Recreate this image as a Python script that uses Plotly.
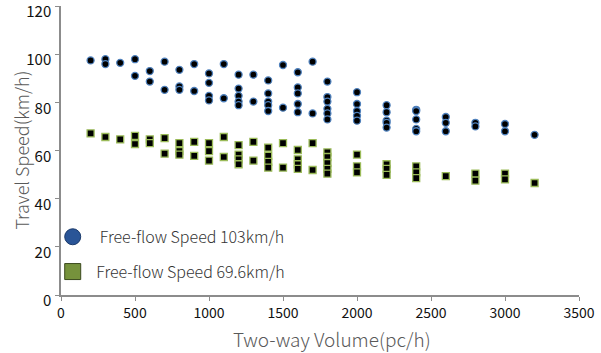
import plotly.graph_objects as go

# ---- data ----
blue_vol = (
    [200] + [300]*2 + [400] + [500]*2 + [600]*2 + [700]*2 + [800]*3 + [900]*2 +
    [1000]*4 + [1100]*2 + [1200]*5 + [1300]*2 + [1400]*5 + [1500]*2 + [1600]*5 +
    [1700]*2 + [1800]*6 + [2000]*5 + [2200]*5 + [2400]*5 + [2600]*3 + [2800]*2 +
    [3000]*2 + [3200]
)
blue_speed = [
    97.4,
    97.9, 95.9,
    96.4,
    97.9, 91.0,
    93.0, 88.6,
    96.9, 85.2,
    93.5, 86.6, 85.2,
    95.9, 84.7,
    92.0, 88.1, 82.7, 80.8,
    95.9, 81.7,
    91.5, 85.7, 82.7, 80.3, 78.8,
    91.5, 80.3,
    89.1, 83.7, 80.3, 78.8, 76.4,
    95.5, 77.8,
    92.5, 86.2, 83.7, 79.3, 75.9,
    96.9, 75.4,
    88.6, 82.2, 80.3, 77.3, 75.4, 72.9,
    84.2, 79.3, 76.4, 74.4, 72.4,
    78.8, 75.9, 72.4, 71.5, 69.5,
    76.9, 76.4, 72.9, 69.0, 68.0,
    73.9, 71.5, 68.0,
    71.5, 70.0,
    71.0, 68.0,
    66.5,
]

green_vol = (
    [200] + [300] + [400] + [500]*2 + [600]*2 + [700]*2 + [800]*3 + [900]*2 +
    [1000]*3 + [1100]*2 + [1200]*4 + [1300]*2 + [1400]*4 + [1500]*2 + [1600]*4 +
    [1700]*2 + [1800]*5 + [2000]*3 + [2200]*3 + [2400]*3 + [2600] + [2800]*2 +
    [3000]*2 + [3200]
)
green_speed = [
    67.1,
    65.6,
    64.6,
    66.1, 62.7,
    64.6, 63.1,
    65.1, 58.7,
    63.1, 59.7, 58.3,
    63.6, 57.8,
    63.1, 59.7, 55.8,
    65.6, 57.3,
    62.2, 58.3, 56.3, 54.3,
    63.6, 55.8,
    61.2, 57.8, 55.3, 52.9,
    63.1, 52.9,
    60.2, 56.3, 54.3, 52.4,
    63.1, 51.9,
    59.2, 57.3, 54.8, 52.4, 50.4,
    58.3, 53.4, 50.9,
    54.3, 52.4, 49.9,
    53.4, 50.9, 48.5,
    49.4,
    50.4, 47.5,
    50.4, 48.0,
    46.5,
]

legend_names = ["\u00a0\u00a0Free-flow Speed 103km/h", "\u00a0Free-flow Speed 69.6km/h"]
x_ticks = [0, 500, 1000, 1500, 2000, 2500, 3000, 3500]
y_ticks = [0, 20, 40, 60, 80, 100, 120]
x_title = "Two-way Volume(pc/h)"
y_title = "Travel Speed(km/h)"

FONT = "Noto Sans CJK KR"
TITLE_FONT = dict(size=19, color="#595959", weight=300)

fig = go.Figure()
fig.add_trace(go.Scatter(
    x=blue_vol, y=blue_speed, mode="markers", showlegend=False,
    marker=dict(symbol="circle", size=7, color="black",
                line=dict(color="#4f81bd", width=1.3)),
))
fig.add_trace(go.Scatter(
    x=green_vol, y=green_speed, mode="markers", showlegend=False,
    marker=dict(symbol="square", size=7, color="black",
                line=dict(color="#9bbb59", width=1.3)),
))
# legend entries
fig.add_trace(go.Scatter(
    x=[None], y=[None], mode="markers", name=legend_names[0], legendgroup="a",
    marker=dict(symbol="circle", size=16, color="#2a5597",
                line=dict(color="#1b3a6b", width=1)),
))
fig.add_trace(go.Scatter(
    x=[None], y=[None], mode="markers", name=legend_names[1], legendgroup="b",
    marker=dict(symbol="square", size=16, color="#76923c",
                line=dict(color="#3b4a1e", width=1)),
))

# axis titles
fig.add_annotation(
    text=x_title, xref="paper", yref="paper", x=0.523, y=-0.149,
    xanchor="center", yanchor="middle", showarrow=False, font=TITLE_FONT,
)
fig.add_annotation(
    text=y_title, xref="paper", yref="paper", x=-0.079, y=0.5,
    xanchor="center", yanchor="middle", showarrow=False, textangle=-90,
    font=dict(size=18, color="#595959", weight=300),
)

fig.update_layout(
    width=601, height=353,
    margin=dict(l=61, r=22, t=6, b=58),
    paper_bgcolor="white", plot_bgcolor="white",
    font=dict(family=FONT, color="#000000", size=13),
    legend=dict(
        x=-0.016, y=0.26, xanchor="left", yanchor="top",
        bgcolor="rgba(0,0,0,0)", font=dict(size=16, color="#333333", weight=300),
        itemsizing="trace", tracegroupgap=11,
    ),
    xaxis=dict(
        range=[0, 3500], tickvals=x_ticks, showgrid=False, zeroline=False,
        showline=True, linecolor="#8c8c8c", linewidth=1.5, automargin=False,
        ticks="outside", ticklen=4, tickcolor="#8c8c8c", ticklabelstandoff=0,
        ticklabeloverflow="allow",
        tickfont=dict(size=14, color="#111111"),
    ),
    yaxis=dict(
        range=[0, 120], tickvals=y_ticks, showgrid=False, zeroline=False,
        showline=True, linecolor="#8c8c8c", linewidth=1.5, automargin=False,
        ticks="outside", ticklen=4, tickcolor="#8c8c8c", ticklabelshift=6,
        ticklabelstandoff=1, ticklabeloverflow="allow",
        tickfont=dict(size=15, color="#111111"),
    ),
)

fig.write_html("out.html")
